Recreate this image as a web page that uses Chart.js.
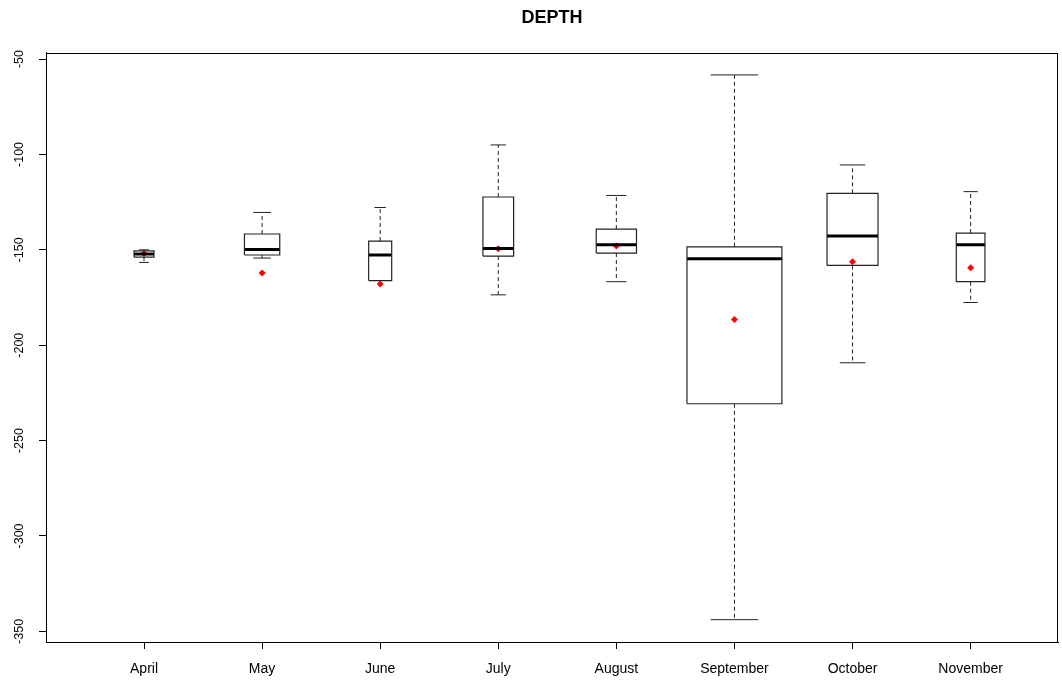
<!DOCTYPE html>
<html>
<head>
<meta charset="utf-8">
<title>DEPTH</title>
<script src="https://cdn.jsdelivr.net/npm/chart.js@4/dist/chart.umd.min.js"></script>
<style>
  html, body { margin: 0; padding: 0; background: #fff; }
  #wrap { width: 1062px; height: 680px; }
</style>
</head>
<body>
<div id="wrap"><canvas id="depthChart"></canvas></div>
<script>
// box plot stats
const months = ['April', 'May', 'June', 'July', 'August', 'September', 'October', 'November'];
const lowWhisker  = [-156.6, -154.3, -166.1, -173.6, -166.7, -343.9, -209.2, -177.6];
const lowerQuart  = [-153.8, -152.7, -166.1, -153.3, -151.7, -230.7, -158.2, -166.7];
const medians     = [-152.2, -149.8, -152.7, -149.3, -147.3, -154.7, -142.8, -147.3];
const upperQuart  = [-150.6, -141.7, -145.4, -122.3, -139.1, -148.4, -120.4, -141.2];
const highWhisker = [-150.0, -130.4, -127.8, -95.0, -121.5, -58.3, -105.5, -119.5];
const means       = [-151.9, -162.2, -167.9, -149.4, -148.0, -186.5, -156.2, -159.4];
const yTicks = [-50, -100, -150, -200, -250, -300, -350];

// box widths in category units (varwidth look)
const boxWidths = [0.169, 0.299, 0.195, 0.26, 0.341, 0.804, 0.432, 0.243];

Chart.defaults.font.family = '"Liberation Sans", Arial, sans-serif';
Chart.defaults.color = '#000';

function segments(build) {
  const pts = [];
  months.forEach((m, i) => {
    build(i + 1, boxWidths[i] / 2, i).forEach(p => pts.push(p));
    pts.push({ x: i + 1, y: null });
  });
  return pts;
}

const whiskerPts = [];
months.forEach((m, i) => {
  const x = i + 1;
  whiskerPts.push({ x: x, y: upperQuart[i] }, { x: x, y: highWhisker[i] }, { x: x, y: null });
  whiskerPts.push({ x: x, y: lowerQuart[i] }, { x: x, y: lowWhisker[i] }, { x: x, y: null });
});

const capPts = [];
months.forEach((m, i) => {
  const x = i + 1, h = boxWidths[i] / 4;
  capPts.push({ x: x - h, y: highWhisker[i] }, { x: x + h, y: highWhisker[i] }, { x: x, y: null });
  capPts.push({ x: x - h, y: lowWhisker[i] }, { x: x + h, y: lowWhisker[i] }, { x: x, y: null });
});

const boxPts = segments((x, h, i) => [
  { x: x - h, y: lowerQuart[i] }, { x: x - h, y: upperQuart[i] },
  { x: x + h, y: upperQuart[i] }, { x: x + h, y: lowerQuart[i] },
  { x: x - h, y: lowerQuart[i] }
]);

const medianPts = segments((x, h, i) => [
  { x: x - h, y: medians[i] }, { x: x + h, y: medians[i] }
]);

const meanPts = means.map((v, i) => ({ x: i + 1, y: v }));

const plotFrame = {
  id: 'plotFrame',
  afterDraw(chart) {
    const a = chart.chartArea, ctx = chart.ctx;
    ctx.save();
    ctx.strokeStyle = '#000';
    ctx.lineWidth = 1;
    ctx.strokeRect(Math.round(a.left) + 0.5, Math.round(a.top) + 0.5,
      Math.round(a.right - a.left) - 1, Math.round(a.bottom - a.top));
    ctx.restore();
  }
};

const lineDefaults = { showLine: true, pointRadius: 0, pointHoverRadius: 0, spanGaps: false, fill: false, borderCapStyle: 'butt' };

new Chart(document.getElementById('depthChart'), {
  type: 'scatter',
  data: {
    datasets: [
      Object.assign({ data: whiskerPts, borderColor: '#222', borderWidth: 1, borderDash: [4, 3] }, lineDefaults),
      Object.assign({ data: capPts, borderColor: '#222', borderWidth: 1 }, lineDefaults),
      Object.assign({ data: boxPts, borderColor: '#222', borderWidth: 1.2 }, lineDefaults),
      Object.assign({ data: medianPts, borderColor: '#000', borderWidth: 3 }, lineDefaults),
      {
        data: meanPts,
        showLine: false,
        pointStyle: 'rectRot',
        pointRadius: 3.5,
        pointBackgroundColor: '#ff0000',
        pointBorderColor: '#ff0000',
        pointBorderWidth: 0
      }
    ]
  },
  options: {
    responsive: true,
    maintainAspectRatio: false,
    animation: false,
    events: [],
    layout: { padding: { top: 0, right: 4, bottom: 0, left: 0 } },
    plugins: {
      legend: { display: false },
      tooltip: { enabled: false },
      title: {
        display: true,
        text: 'DEPTH',
        fullSize: false,
        color: '#000',
        font: { size: 18, weight: 'bold' },
        padding: { top: 7, bottom: 24 }
      }
    },
    scales: {
      x: {
        type: 'linear',
        min: 0.17,
        max: 8.74,
        afterBuildTicks: axis => { axis.ticks = months.map((m, i) => ({ value: i + 1 })); },
        afterFit: axis => { axis.height = 38; },
        ticks: {
          callback: v => months[v - 1],
          font: { size: 14 },
          color: '#000',
          padding: 12,
          maxRotation: 0,
          autoSkip: false
        },
        grid: { drawOnChartArea: false, tickLength: 7, tickColor: '#000' },
        border: { color: '#000' }
      },
      y: {
        min: -355.6,
        max: -46.6,
        afterBuildTicks: axis => { axis.ticks = yTicks.map(v => ({ value: v })); },
        afterFit: axis => { axis.width = 46; },
        ticks: {
          font: { size: 12.5 },
          color: '#000',
          minRotation: 90,
          maxRotation: 90,
          crossAlign: 'center',
          padding: 7
        },
        grid: { drawOnChartArea: false, tickLength: 7, tickColor: '#000' },
        border: { color: '#000' }
      }
    }
  },
  plugins: [plotFrame]
});
</script>
</body>
</html>
